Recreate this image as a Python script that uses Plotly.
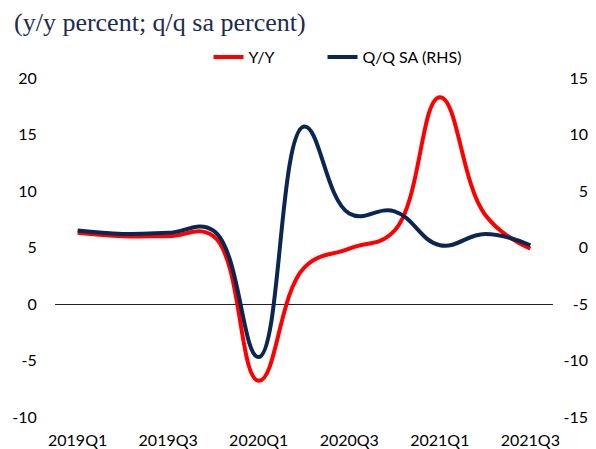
import plotly.graph_objects as go

quarters = ["2019Q1", "2019Q2", "2019Q3", "2019Q4",
            "2020Q1", "2020Q2", "2020Q3", "2020Q4",
            "2021Q1", "2021Q2", "2021Q3"]
yoy = [6.3, 6.0, 6.0, 6.0, -6.8, 3.2, 4.9, 6.5, 18.3, 7.9, 4.9]
qoq_sa = [1.5, 1.2, 1.3, 1.5, -9.7, 10.7, 3.0, 3.2, 0.2, 1.2, 0.2]
x_tick_labels = ["2019Q1", "2019Q3", "2020Q1", "2020Q3", "2021Q1", "2021Q3"]
left_ticks = [-10, -5, 0, 5, 10, 15, 20]
left_tick_text = ["-10", "-5", "0", "5", "10", "15", "20"]
right_ticks = [-15, -10, -5, 0, 5, 10, 15]
right_tick_text = ["-15", "-10", "-5", "0", "5", "10", "15"]

RED = "#FF0000"
NAVY = "#0B2650"
FONT = "Lato"

# page has a default 8px body margin, so layout coordinates = screen - 8
OFF = 8
W, H = 596, 449
PLOT_LEFT, PLOT_RIGHT = 55 - OFF, 553 - OFF
PLOT_TOP, PLOT_BOTTOM = 78 - OFF, 417 - OFF
RIGHT_LABEL_EDGE = 591 - OFF
L, R, T, B = PLOT_LEFT, W - RIGHT_LABEL_EDGE, 20, H - PLOT_BOTTOM
PW = W - L - R
PH = H - T - B


def px_x(px):
    return (px - OFF - L) / PW


def px_y(py):
    return (H - B - (py - OFF)) / PH


fig = go.Figure()
fig.add_trace(go.Scatter(
    x=quarters, y=qoq_sa, name="Q/Q SA (RHS)", yaxis="y2", legend="legend2",
    mode="lines", line=dict(color=NAVY, width=4, shape="spline", smoothing=1.2)))
fig.add_trace(go.Scatter(
    x=quarters, y=yoy, name="Y/Y", yaxis="y", legend="legend",
    mode="lines", line=dict(color=RED, width=4, shape="spline", smoothing=1.2)))

legend_common = dict(orientation="h", xanchor="left", yanchor="middle",
                     font=dict(family=FONT, size=16, color="black"),
                     bgcolor="rgba(0,0,0,0)")

fig.update_layout(
    width=W, height=H,
    margin=dict(l=L, r=R, t=T, b=B),
    paper_bgcolor="white", plot_bgcolor="white",
    font=dict(family=FONT, size=16, color="black"),
    showlegend=True,
    legend=dict(x=px_x(250 - 41.5), y=px_y(57), **legend_common),
    legend2=dict(x=px_x(363 - 40.5), y=px_y(57), **legend_common),
    xaxis=dict(type="category", range=[-0.5, 10.5], tickmode="array",
               domain=[0, (PLOT_RIGHT - PLOT_LEFT) / PW],
               tickvals=x_tick_labels, ticktext=x_tick_labels, automargin=False,
               showgrid=False, zeroline=False, showline=False,
               ticks="outside", ticklen=9, tickcolor="rgba(0,0,0,0)",
               tickfont=dict(family=FONT, size=16, color="black")),
    yaxis=dict(range=[-10, 20], tickmode="array", tickvals=left_ticks, ticktext=left_tick_text,
               domain=[0, (PLOT_BOTTOM - PLOT_TOP) / PH], automargin=False,
               showgrid=False, zeroline=True, zerolinecolor="#222222", zerolinewidth=1,
               showline=False, ticks="outside", ticklen=14, tickcolor="rgba(0,0,0,0)",
               tickfont=dict(family=FONT, size=16, color="black")),
    yaxis2=dict(range=[-15, 15], tickmode="array", tickvals=right_ticks, ticktext=right_tick_text,
                overlaying="y", side="right", anchor="free", position=1.0,
                ticklabelposition="inside", ticklabeloverflow="allow", automargin=False,
                showgrid=False, zeroline=False, showline=False, ticks="",
                tickfont=dict(family=FONT, size=16, color="black")),
    annotations=[dict(text="(y/y percent; q/q sa percent)", xref="paper", yref="paper",
                      x=px_x(12), y=px_y(22), xanchor="left", yanchor="middle",
                      showarrow=False,
                      font=dict(family="Liberation Serif", size=26, color="#1C2B4E"))],
)

fig.write_html("out.html")
